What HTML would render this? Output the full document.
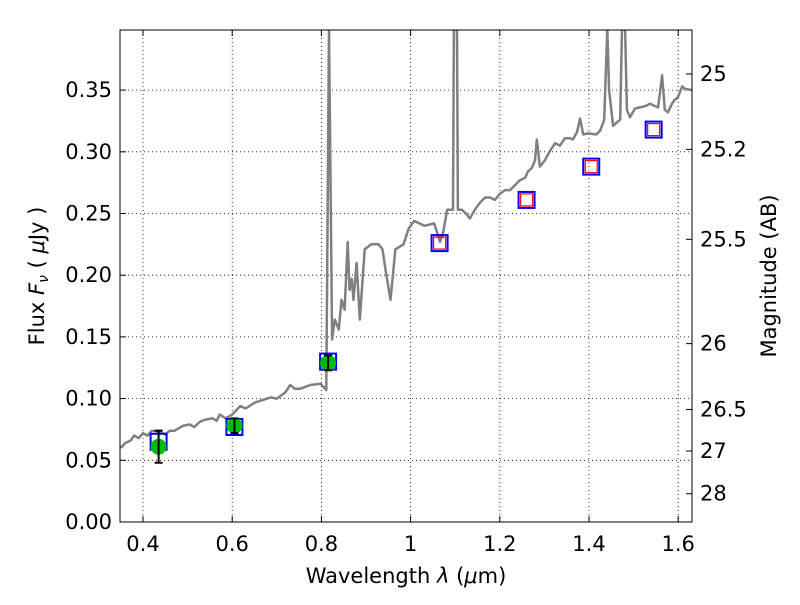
<!DOCTYPE html>
<html><head><meta charset="utf-8"><style>
body{margin:0;background:#fff;}
svg text{font-family:"DejaVu Sans","Liberation Sans",sans-serif;font-size:21px;fill:#000;}
</style></head><body>
<svg id="chart" width="800" height="600" xmlns="http://www.w3.org/2000/svg">
<rect width="800" height="600" fill="#fff"/>
<g id="grid"></g>
<g id="spec"></g>
<g id="phot"></g>
<rect x="120" y="30" width="572" height="492" fill="none" stroke="#000" stroke-width="1"/>
<g id="axes"></g>
<text x="406" y="583" text-anchor="middle">Wavelength  <tspan font-style="italic">λ</tspan> (<tspan font-style="italic">μ</tspan>m)</text>
<text transform="translate(44,276) rotate(-90)" text-anchor="middle">Flux  <tspan font-style="italic">F<tspan font-size="14" dy="4">ν</tspan></tspan><tspan dy="-4">  ( </tspan><tspan font-style="italic">μ</tspan>Jy )</text>
<text transform="translate(776,276) rotate(-90)" text-anchor="middle">Magnitude (AB)</text>
</svg>
<script>
const xTicks=[0.4,0.6,0.8,1.0,1.2,1.4,1.6];
const xTickLabels=["0.4","0.6","0.8","1","1.2","1.4","1.6"];
const yTicks=[0,0.05,0.1,0.15,0.2,0.25,0.3,0.35];
const yTickLabels=["0.00","0.05","0.10","0.15","0.20","0.25","0.30","0.35"];
const magTicks=[25,25.2,25.5,26,26.5,27,28];
const magTickLabels=["25","25.2","25.5","26","26.5","27","28"];
const specWave=[0.35,0.36,0.372,0.38,0.39,0.4,0.41,0.42,0.438,0.45,0.46,0.471,0.49,0.505,0.515,0.527,0.54,0.556,0.565,0.572,0.585,0.6,0.618,0.63,0.652,0.67,0.686,0.7,0.719,0.73,0.74,0.753,0.775,0.798,0.811,0.817,0.824,0.83,0.839,0.845,0.852,0.859,0.863,0.868,0.872,0.879,0.886,0.897,0.912,0.928,0.937,0.944,0.955,0.966,0.984,0.996,1.008,1.031,1.053,1.066,1.073,1.082,1.095,1.097,1.104,1.106,1.115,1.124,1.133,1.144,1.156,1.167,1.178,1.189,1.2,1.212,1.223,1.234,1.245,1.257,1.263,1.272,1.279,1.283,1.29,1.301,1.313,1.324,1.335,1.346,1.357,1.364,1.373,1.38,1.387,1.398,1.416,1.425,1.434,1.441,1.445,1.454,1.463,1.47,1.474,1.481,1.485,1.492,1.503,1.514,1.526,1.537,1.548,1.555,1.564,1.57,1.577,1.586,1.592,1.599,1.609,1.615,1.631];
const specFlux=[0.06,0.064,0.066,0.07,0.068,0.072,0.07,0.074,0.073,0.071,0.074,0.074,0.078,0.079,0.077,0.081,0.083,0.084,0.082,0.087,0.084,0.087,0.094,0.092,0.097,0.099,0.101,0.1,0.105,0.111,0.108,0.108,0.111,0.112,0.107,0.4,0.148,0.164,0.156,0.18,0.172,0.227,0.188,0.197,0.18,0.21,0.164,0.221,0.225,0.225,0.221,0.204,0.18,0.221,0.225,0.238,0.244,0.24,0.242,0.227,0.235,0.253,0.253,0.4,0.4,0.253,0.253,0.25,0.246,0.253,0.259,0.263,0.263,0.261,0.266,0.269,0.269,0.273,0.277,0.279,0.284,0.287,0.293,0.31,0.288,0.293,0.301,0.307,0.305,0.311,0.311,0.31,0.316,0.327,0.314,0.315,0.314,0.317,0.326,0.4,0.35,0.321,0.324,0.326,0.4,0.4,0.334,0.328,0.335,0.336,0.337,0.339,0.337,0.336,0.362,0.334,0.332,0.339,0.342,0.344,0.353,0.351,0.35];
const photWave=[0.435,0.605,0.815];
const photFlux=[0.061,0.078,0.129];
const photErr=[0.013,0.006,0.006];
const modelWave=[0.435,0.605,0.815,1.065,1.26,1.405,1.545];
const modelFlux=[0.065,0.077,0.130,0.226,0.261,0.288,0.318];
const predWave=[1.065,1.26,1.405,1.545];
const predFlux=[0.226,0.261,0.288,0.318];

const X=v=>143+(v-0.4)*446;
const Y=v=>522-v*1234;
const M=m=>Y(Math.pow(10,(23.9-m)/2.5));
const NS="http://www.w3.org/2000/svg";
function mk(tag,parent,attrs){const e=document.createElementNS(NS,tag);for(const k in attrs)e.setAttribute(k,attrs[k]);document.getElementById(parent).appendChild(e);return e;}

xTicks.forEach((t,i)=>{const x=X(t);
 const g=mk('line','grid',{x1:x,x2:x,y1:30,y2:522,stroke:'#000','stroke-dasharray':'1,3','stroke-width':0.8});
 
 mk('line','axes',{x1:x,x2:x,y1:522,y2:516,stroke:'#000'});
 mk('line','axes',{x1:x,x2:x,y1:30,y2:36,stroke:'#000'});
 const tx=mk('text','axes',{x:x,y:551,'text-anchor':'middle'});tx.textContent=xTickLabels[i];
 });
yTicks.forEach((t,i)=>{const y=Y(t);
 const g=mk('line','grid',{x1:120,x2:692,y1:y,y2:y,stroke:'#000','stroke-dasharray':'1,3','stroke-width':0.8});
 
 mk('line','axes',{x1:120,x2:126,y1:y,y2:y,stroke:'#000'});
 const tx=mk('text','axes',{x:112,y:y+7,'text-anchor':'end'});tx.textContent=yTickLabels[i];
 });
magTicks.forEach((m,i)=>{const y=M(m);
 mk('line','axes',{x1:686,x2:692,y1:y,y2:y,stroke:'#000'});
 const tx=mk('text','axes',{x:700,y:y+7});tx.textContent=magTickLabels[i];
 });

const clip=mk('clipPath','spec',{id:'pc'});
const cr=document.createElementNS(NS,'rect');cr.setAttribute('x',120);cr.setAttribute('y',30);cr.setAttribute('width',572);cr.setAttribute('height',492);clip.appendChild(cr);
const pts=specWave.map((w,i)=>X(w).toFixed(1)+','+Y(specFlux[i]).toFixed(1)).join(' ');
const pl=mk('polyline','spec',{points:pts,fill:'none',stroke:'#808080','stroke-width':2.5,'clip-path':'url(#pc)','stroke-linejoin':'round'});


modelWave.forEach((w,i)=>{const r=mk('rect','phot',{x:X(w)-8,y:Y(modelFlux[i])-8,width:16,height:16,fill:'none',stroke:'#0000ff','stroke-width':2});
 });
predWave.forEach((w,i)=>{const r=mk('rect','phot',{x:X(w)-6,y:Y(predFlux[i])-6,width:12,height:12,fill:'none',stroke:'#ff0000','stroke-width':1.2});
 });
photWave.forEach((w,i)=>{const x=X(w),y=Y(photFlux[i]);
 const c=mk('circle','phot',{cx:x,cy:y,r:8,fill:'#00bb00'});
 
 const y1=Y(photFlux[i]+photErr[i]),y2=Y(photFlux[i]-photErr[i]);
 const e=mk('path','phot',{d:`M${x},${y1}V${y2}M${x-4},${y1}H${x+4}M${x-4},${y2}H${x+4}`,stroke:'#000','stroke-width':2,fill:'none'});
 });
</script>
</body></html>
